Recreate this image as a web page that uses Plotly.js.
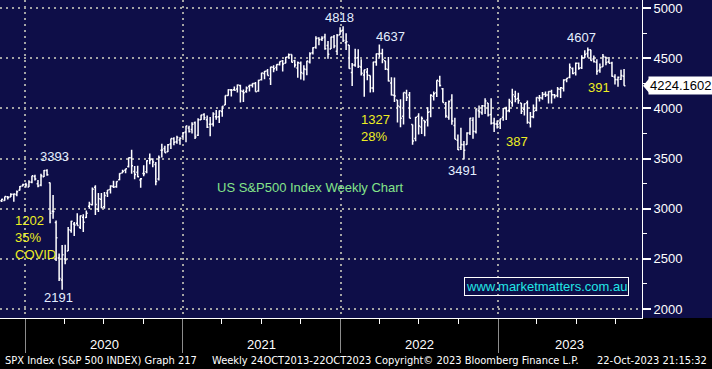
<!DOCTYPE html>
<html><head><meta charset="utf-8">
<script src="https://cdn.plot.ly/plotly-3.0.1.min.js"></script>
<style>html,body{margin:0;padding:0;background:#000;}#chart{width:712px;height:369px;}</style>
</head><body><div id="chart"></div>
<script>
// Weekly bars (week ending Friday), SPX
const weekDates = [
'2019-10-25','2019-11-01','2019-11-08','2019-11-15','2019-11-22','2019-11-29','2019-12-06','2019-12-13','2019-12-20','2019-12-27',
'2020-01-03','2020-01-10','2020-01-17','2020-01-24','2020-01-31','2020-02-07','2020-02-14','2020-02-21','2020-02-28','2020-03-06','2020-03-13','2020-03-20','2020-03-27',
'2020-04-03','2020-04-10','2020-04-17','2020-04-24','2020-05-01','2020-05-08','2020-05-15','2020-05-22','2020-05-29','2020-06-05','2020-06-12','2020-06-19','2020-06-26',
'2020-07-03','2020-07-10','2020-07-17','2020-07-24','2020-07-31','2020-08-07','2020-08-14','2020-08-21','2020-08-28','2020-09-04','2020-09-11','2020-09-18','2020-09-25',
'2020-10-02','2020-10-09','2020-10-16','2020-10-23','2020-10-30','2020-11-06','2020-11-13','2020-11-20','2020-11-27','2020-12-04','2020-12-11','2020-12-18','2020-12-25',
'2021-01-01','2021-01-08','2021-01-15','2021-01-22','2021-01-29','2021-02-05','2021-02-12','2021-02-19','2021-02-26','2021-03-05','2021-03-12','2021-03-19','2021-03-26',
'2021-04-02','2021-04-09','2021-04-16','2021-04-23','2021-04-30','2021-05-07','2021-05-14','2021-05-21','2021-05-28','2021-06-04','2021-06-11','2021-06-18','2021-06-25',
'2021-07-02','2021-07-09','2021-07-16','2021-07-23','2021-07-30','2021-08-06','2021-08-13','2021-08-20','2021-08-27','2021-09-03','2021-09-10','2021-09-17','2021-09-24',
'2021-10-01','2021-10-08','2021-10-15','2021-10-22','2021-10-29','2021-11-05','2021-11-12','2021-11-19','2021-11-26','2021-12-03','2021-12-10','2021-12-17','2021-12-24','2021-12-31',
'2022-01-07','2022-01-14','2022-01-21','2022-01-28','2022-02-04','2022-02-11','2022-02-18','2022-02-25','2022-03-04','2022-03-11','2022-03-18','2022-03-25',
'2022-04-01','2022-04-08','2022-04-15','2022-04-22','2022-04-29','2022-05-06','2022-05-13','2022-05-20','2022-05-27','2022-06-03','2022-06-10','2022-06-17','2022-06-24',
'2022-07-01','2022-07-08','2022-07-15','2022-07-22','2022-07-29','2022-08-05','2022-08-12','2022-08-19','2022-08-26','2022-09-02','2022-09-09','2022-09-16','2022-09-23','2022-09-30',
'2022-10-07','2022-10-14','2022-10-21','2022-10-28','2022-11-04','2022-11-11','2022-11-18','2022-11-25','2022-12-02','2022-12-09','2022-12-16','2022-12-23','2022-12-30',
'2023-01-06','2023-01-13','2023-01-20','2023-01-27','2023-02-03','2023-02-10','2023-02-17','2023-02-24','2023-03-03','2023-03-10','2023-03-17','2023-03-24','2023-03-31',
'2023-04-07','2023-04-14','2023-04-21','2023-04-28','2023-05-05','2023-05-12','2023-05-19','2023-05-26','2023-06-02','2023-06-09','2023-06-16','2023-06-23','2023-06-30',
'2023-07-07','2023-07-14','2023-07-21','2023-07-28','2023-08-04','2023-08-11','2023-08-18','2023-08-25','2023-09-01','2023-09-08','2023-09-15','2023-09-22','2023-09-29',
'2023-10-06','2023-10-13','2023-10-20'
];
const openVals = [
2996,3032,3078,3081,3118,3117,3143,3141,3183,3225,
3240,3217,3264,3321,3248,3235,3318,3380,3258,2974,2863,2509,2290,
2499,2578,2782,2846,2854,2815,2915,2913,3025,3038,3213,2994,3094,
3018,3155,3191,3224,3219,3289,3356,3382,3419,3507,3371,3363,3285,
3350,3368,3500,3493,3441,3296,3583,3600,3567,3645,3698,3666,3684,
3723,3764,3803,3788,3857,3731,3886,3939,3886,3842,3844,3916,3916,
3969,4034,4127,4184,4185,4192,4228,4169,4168,4217,4229,4248,4174,
4284,4347,4372,4296,4410,4407,4438,4472,4450,4513,4536,4474,4402,
4450,4348,4386,4463,4553,4610,4702,4689,4712,4627,4592,4710,4568,4734,
4778,4655,4632,4357,4431,4505,4411,4332,4363,4327,4202,4462,
4541,4547,4474,4386,4253,4130,4082,4013,3920,4153,4134,3839,3700,
3920,3815,3880,3883,3966,4120,4155,4270,4196,4042,3910,4083,3830,3682,
3610,3636,3640,3755,3882,3766,3977,3956,4024,4053,3939,3853,3843,
3853,3911,3999,3979,4055,4119,4097,4052,3992,4055,3854,3917,3982,
4102,4102,4140,4132,4167,4136,4127,4190,4201,4284,4308,4396,4354,
4450,4404,4502,4547,4584,4491,4460,4380,4415,4510,4464,4453,4313,
4285,4289,4321
];
const highVals = [
3027,3066,3098,3120,3127,3154,3150,3182,3226,3248,
3259,3282,3329,3338,3285,3348,3385,3393,3260,3136,2882,2553,2637,
2641,2818,2880,2868,2955,2932,2944,2981,3068,3211,3233,3155,3155,
3165,3186,3233,3279,3272,3352,3387,3399,3509,3588,3425,3428,3306,
3432,3482,3550,3502,3466,3530,3646,3628,3645,3700,3712,3726,3712,
3760,3827,3826,3861,3870,3900,3935,3950,3928,3914,3960,3983,3978,
4020,4129,4191,4194,4218,4238,4236,4187,4218,4234,4249,4262,4286,
4356,4372,4393,4415,4429,4440,4468,4481,4513,4546,4536,4485,4466,
4466,4429,4475,4559,4608,4718,4708,4718,4744,4672,4713,4731,4740,4808,
4818,4749,4632,4453,4595,4590,4490,4385,4402,4327,4465,4546,
4637,4593,4474,4513,4309,4307,4082,4091,4158,4185,4164,3839,3913,
3951,3918,3880,4012,4140,4168,4280,4325,4203,4062,4077,4140,3907,3739,
3807,3674,3762,3905,3912,3993,4029,4034,4100,4053,4101,3906,3878,
3895,4004,4015,4095,4195,4176,4156,4052,4048,4079,3964,4039,4110,
4133,4163,4169,4170,4186,4144,4212,4212,4290,4299,4448,4408,4458,
4456,4528,4578,4607,4584,4527,4490,4448,4541,4514,4511,4465,4339,
4318,4385,4393
];
const lowVals = [
2990,3023,3066,3078,3091,3115,3070,3124,3181,3224,
3212,3215,3254,3280,3214,3223,3315,3328,2855,2900,2478,2280,2191,
2447,2578,2761,2727,2831,2798,2767,2908,2999,3032,2936,2966,3004,
3000,3116,3152,3207,3209,3284,3355,3354,3410,3349,3293,3313,3209,
3323,3354,3442,3413,3234,3280,3511,3557,3565,3594,3633,3648,3636,
3703,3663,3760,3750,3694,3725,3885,3885,3805,3723,3819,3886,3853,
3917,4034,4125,4118,4175,4158,4057,4062,4155,4168,4208,4165,4165,
4278,4289,4327,4233,4360,4375,4426,4368,4450,4497,4457,4406,4306,
4288,4278,4330,4447,4537,4595,4630,4672,4585,4495,4592,4600,4531,4734,
4662,4582,4395,4222,4414,4401,4327,4115,4279,4157,4161,4424,
4507,4450,4381,4267,4128,4063,3859,3811,3838,4074,3901,3637,3673,
3739,3743,3722,3818,3911,4079,4113,4218,4057,3907,3887,3837,3693,3584,
3584,3491,3638,3733,3698,3750,3907,3937,3944,3919,3838,3764,3800,
3794,3877,3885,3962,4015,4060,4047,3943,3928,3847,3808,3900,3972,
4069,4086,4113,4049,4049,4099,4110,4103,4167,4261,4300,4340,4328,
4385,4393,4501,4507,4474,4458,4335,4356,4415,4430,4449,4316,4238,
4216,4283,4224
];
const closeVals = [
3023,3066,3093,3120,3110,3141,3146,3169,3221,3240,
3235,3265,3329,3295,3226,3328,3380,3338,2954,2972,2711,2305,2541,
2489,2790,2875,2837,2831,2930,2864,2955,3044,3194,3041,3098,3009,
3130,3185,3225,3216,3271,3351,3373,3397,3508,3427,3341,3319,3298,
3348,3477,3484,3465,3270,3509,3585,3558,3638,3699,3663,3709,3703,
3756,3825,3768,3841,3714,3887,3934,3907,3811,3842,3943,3913,3975,
4020,4129,4185,4180,4181,4233,4174,4156,4204,4230,4247,4166,4281,
4352,4370,4327,4412,4395,4437,4468,4442,4509,4535,4459,4433,4455,
4357,4391,4471,4545,4605,4697,4683,4698,4595,4538,4712,4621,4726,4766,
4677,4663,4398,4432,4501,4419,4349,4385,4329,4204,4463,4543,
4546,4488,4393,4272,4132,4123,4024,3901,4158,4109,3901,3675,3912,
3825,3899,3863,3962,4130,4145,4280,4228,4058,3924,4067,3873,3693,3586,
3640,3583,3753,3901,3771,3993,3965,4026,4072,3934,3852,3845,3840,
3895,3999,3973,4071,4136,4090,4079,3970,4046,3862,3917,3971,4109,
4105,4138,4133,4169,4136,4124,4192,4205,4282,4299,4410,4348,4450,
4399,4505,4536,4582,4478,4464,4370,4406,4516,4457,4450,4320,4288,
4309,4327,4224.1602
];

const yTickVals = [2000,2500,3000,3500,4000,4500,5000];
const yearStarts = ['2020-01-01','2021-01-01','2022-01-01','2023-01-01'];
const yearLabels = ['2020','2021','2022','2023'];
const yearLabelDates = ['2020-07-02','2021-07-02','2022-07-02','2023-06-15'];
const quarterDates = ['2019-10-01','2020-01-01','2020-04-01','2020-07-01','2020-10-01','2021-01-01','2021-04-01','2021-07-01','2021-10-01',
  '2022-01-01','2022-04-01','2022-07-01','2022-10-01','2023-01-01','2023-04-01','2023-07-01','2023-10-01'];

// price call-outs: [text, bar date, level, xshift, yshift]
const peakLabels = [
  ['3393','2020-02-21',3393,7,13],
  ['2191','2020-03-27',2191,-4,-8],
  ['4818','2022-01-07',4818,-4,9],
  ['4637','2022-04-01',4637,11,8],
  ['3491','2022-10-14',3491,-1,-11],
  ['4607','2023-07-28',4607,-6,10]
];
const moveNotes = [
  ['1202<br>35%<br>COVID', 0.0202, 0.2516],
  ['1327<br>28%', 0.5592, 0.5975],
  ['387', 0.785, 0.5535],
  ['391', 0.9128, 0.7233]
];
const footerParts = [
  ['SPX Index (S&P 500 INDEX) Graph 217', 0.0047],
  ['Weekly 24OCT2013-22OCT2023', 0.327],
  ['Copyright\u00a9 2023 Bloomberg Finance L.P.', 0.581],
  ['22-Oct-2023 21:15:32', 0.927]
];

const NAVY = '#0e0e48';
const GRID = '#a4a4a4';
const FONT = 'Liberation Sans, Arial, sans-serif';
const lastClose = closeVals[closeVals.length-1];

const trace = {
  type:'ohlc', x:weekDates, open:openVals, high:highVals, low:lowVals, close:closeVals,
  increasing:{line:{color:'#ffffff', width:1.5}},
  decreasing:{line:{color:'#ffffff', width:1.5}},
  tickwidth:0.45, hoverinfo:'skip'
};

const annotations = [];
peakLabels.forEach(p => annotations.push({
  text:p[0], x:p[1], y:p[2], xref:'x', yref:'y', showarrow:false,
  xanchor:'center', yanchor:'middle', xshift:p[3], yshift:p[4],
  font:{family:FONT, size:13, color:'#e4efff'}
}));
moveNotes.forEach(n => annotations.push({
  text:n[0], x:n[1], y:n[2], xref:'paper', yref:'paper', showarrow:false,
  xanchor:'left', yanchor:'middle', align:'left',
  font:{family:FONT, size:13, color:'#eeee22'}
}));
annotations.push({
  text:'US S&P500 Index Weekly Chart', x:0.3349, y:0.4119, xref:'paper', yref:'paper',
  showarrow:false, xanchor:'left', yanchor:'middle',
  font:{family:FONT, size:13, color:'#84e48a'}
});
annotations.push({
  text:'www.marketmatters.com.au', x:0.8512, y:0.099, xref:'paper', yref:'paper',
  showarrow:false, xanchor:'center', yanchor:'middle',
  bordercolor:'#ffffff', borderwidth:1, borderpad:1,
  font:{family:FONT, size:13, color:'#22e6e6'}
});
annotations.push({
  text:lastClose.toFixed(4), x:1, y:lastClose, xref:'paper', yref:'y',
  showarrow:false, xanchor:'left', yanchor:'middle', xshift:6,
  bgcolor:'#ffffff', borderpad:1,
  font:{family:FONT, size:13, color:'#000000'}
});
yearLabels.forEach((t,i) => annotations.push({
  text:t, x:yearLabelDates[i], y:-0.0786, xref:'x', yref:'paper', showarrow:false,
  xanchor:'center', yanchor:'middle', yshift:-2, font:{family:FONT, size:13, color:'#ffffff'}
}));
footerParts.forEach(f => annotations.push({
  text:f[0], x:f[1], y:-0.135, xref:'paper', yref:'paper', showarrow:false,
  xanchor:'left', yanchor:'middle',
  font:{family:'DejaVu Sans Condensed, Liberation Sans Narrow, sans-serif', size:11, color:'#ffffff'}
}));

const shapes = [
  {type:'rect', xref:'paper', yref:'paper', x0:1, x1:1.12, y0:0, y1:1, fillcolor:NAVY, line:{width:0}, layer:'below'},
  {type:'path', xref:'paper', yref:'y', xsizemode:'pixel', ysizemode:'pixel', xanchor:1, yanchor:lastClose,
   path:'M 1 0 L 7 7 L 7 -7 Z', fillcolor:'#ffffff', line:{width:0}}
];

const layout = {
  width:712, height:369,
  margin:{l:0, r:70, t:0, b:51, pad:0},
  paper_bgcolor:'#000000', plot_bgcolor:NAVY,
  showlegend:false, dragmode:false,
  font:{family:FONT, size:13, color:'#ffffff'},
  xaxis:{
    type:'date', range:['2019-11-04','2023-11-30 14:00'],
    tickmode:'array', tickvals:yearStarts, showticklabels:false,
    ticks:'outside', ticklen:34, tickcolor:'#8c8c8c', tickwidth:1,
    showgrid:true, gridcolor:GRID, gridwidth:2, griddash:'2px,4px',
    showline:true, linecolor:'#ffffff', linewidth:1, zeroline:false,
    rangeslider:{visible:false}, fixedrange:true,
    minor:{tickmode:'array', tickvals:quarterDates, ticks:'outside', ticklen:5, tickcolor:'#ffffff', tickwidth:1, showgrid:false}
  },
  yaxis:{
    side:'right', range:[1910,5080],
    tickmode:'array', tickvals:yTickVals,
    ticks:'outside', ticklen:8, tickwidth:2, tickcolor:'#ffffff',
    tickfont:{family:FONT, size:13, color:'#ffffff'},
    showgrid:true, gridcolor:GRID, gridwidth:2, griddash:'2px,4px',
    showline:true, linecolor:'#ffffff', linewidth:1, zeroline:false, fixedrange:true,
    minor:{tickmode:'linear', tick0:0, dtick:250, ticks:'outside', ticklen:4, tickcolor:'#ffffff', tickwidth:1, showgrid:false}
  },
  annotations:annotations,
  shapes:shapes
};

Plotly.newPlot('chart', [trace], layout, {displayModeBar:false, staticPlot:true});
</script>
</body></html>
